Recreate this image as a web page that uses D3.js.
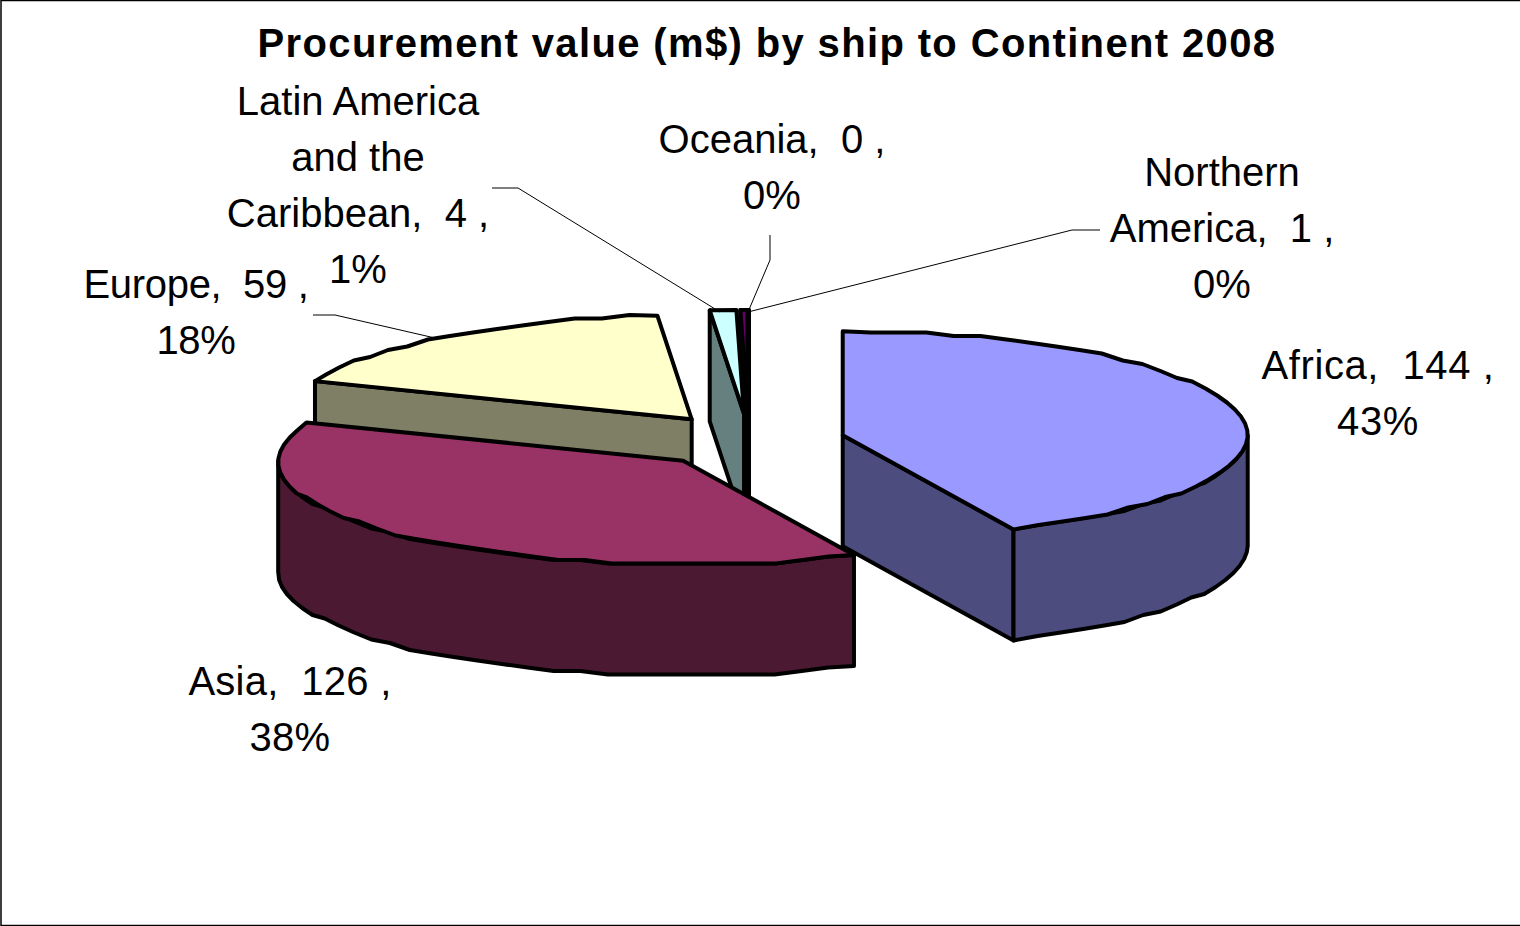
<!DOCTYPE html>
<html><head><meta charset="utf-8">
<script src="https://cdn.jsdelivr.net/npm/d3@7"></script>
<style>html,body{margin:0;padding:0;background:#fff}svg{display:block}text{font-family:"Liberation Sans",Arial,sans-serif;fill:#000}</style>
</head><body><svg id="c" width="1520" height="926"></svg>
<script>
const categories=["Africa","Asia","Europe","Latin America and the Caribbean","Northern America","Oceania"];
const values=[143.6,126.4,58.9,3.5,0.9,0.1];
const shownValues=[144,126,59,4,1,0];
const shownPercents=["43%","38%","18%","1%","0%","0%"];
const topColors=["#9999FF","#993366","#FFFFCC","#CCFFFF","#660066","#FF8080"];
const sideColors=["#4C4C7F","#4C1933","#7F7F66","#667F7F","#330033","#7F4040"];
const title="Procurement value (m$) by ship to Continent 2008";
const labelLines=[["Africa,  144 ,","43%"],["Asia,  126 ,","38%"],["Europe,  59 ,","18%"],["Latin America","and the","Caribbean,  4 ,","1%"],["Northern","America,  1 ,","0%"],["Oceania,  0 ,","0%"]];
const labelAnchors=[[1378,379],[290,695],[196,298],[358,115],[1222,186],[772,153]];
const labelSpacing=[0.6,0.25,-0.3,0,0,0];
const leaders=[null,null,[[313,315],[335,315],[435,338]],[[492,188],[518,188],[720,312]],[[1100,230],[1072,230],[748,312]],[[770,235],[770,260],[748,312]]];

const svg=d3.select("#c");
const cx=749,cy=441,rx=405,ry=104,depth=111,explodeX=0.237,explodeY=0.26,grid=3.5;
const sx=d3.scaleLinear().domain([-1,1]).range([cx-rx,cx+rx]);
const sy=d3.scaleLinear().domain([-1,1]).range([cy-ry,cy+ry]);
const arcs=d3.pie().sort(null).value(d=>d)(values);
const line=d3.line();
function paint(pts,fill){svg.append("path").attr("d",line(pts)+"Z").attr("fill",fill).attr("stroke","#000").attr("stroke-width",4).attr("stroke-linejoin","round");}
const slices=arcs.map((a,i)=>{const m=(a.startAngle+a.endAngle)/2;
 const ox=explodeX*Math.sin(m),oy=-explodeY*Math.cos(m);
 const P=(t,d=0)=>[sx(ox+Math.sin(t)),sy(oy-Math.cos(t))+d];
 const apex=(d=0)=>[sx(ox),sy(oy)+d];
 return {a,i,P,apex};});
slices.sort((p,q)=>p.apex()[1]-q.apex()[1]);
const snap=v=>Math.round(v/grid)*grid;
function rim(P,t0,t1,d){const n=Math.max(1,Math.ceil((t1-t0)/(Math.PI/45)));
 return d3.range(n+1).map(k=>{const p=P(t0+(t1-t0)*k/n,0);
  return (k===0||k===n)?[p[0],p[1]+d]:[p[0],snap(p[1])+d];});}
slices.forEach(({a,i,P,apex})=>{
 const t0=a.startAngle,t1=a.endAngle;
 if(Math.sin(t0)<0)paint([apex(0),P(t0),P(t0,depth),apex(depth)],sideColors[i]);
 if(Math.sin(t1)>0)paint([apex(0),P(t1),P(t1,depth),apex(depth)],sideColors[i]);
 const w0=Math.max(t0,Math.PI/2),w1=Math.min(t1,Math.PI*1.5);
 if(w1>w0)paint([...rim(P,w0,w1,0),...rim(P,w0,w1,depth).reverse()],sideColors[i]);
 paint([apex(0),...rim(P,t0,t1,0)],topColors[i]);
});
leaders.forEach(l=>{if(l)svg.append("path").attr("d",line(l)).attr("fill","none").attr("stroke","#000").attr("stroke-width",1);});
svg.append("rect").attr("x",1).attr("y",0.5).attr("width",1530).attr("height",925).attr("fill","none").attr("stroke","#000").attr("stroke-width",1.5);
svg.append("text").attr("x",767).attr("y",57).attr("text-anchor","middle").attr("font-size",40).attr("font-weight","bold").attr("letter-spacing",1.36).text(title);
labelLines.forEach((ls,i)=>{const [x,y]=labelAnchors[i];ls.forEach((s,j)=>svg.append("text").attr("x",x).attr("y",y+j*56).attr("text-anchor","middle").attr("font-size",40).attr("letter-spacing",labelSpacing[i]).style("white-space","pre").text(s));});
</script></body></html>
